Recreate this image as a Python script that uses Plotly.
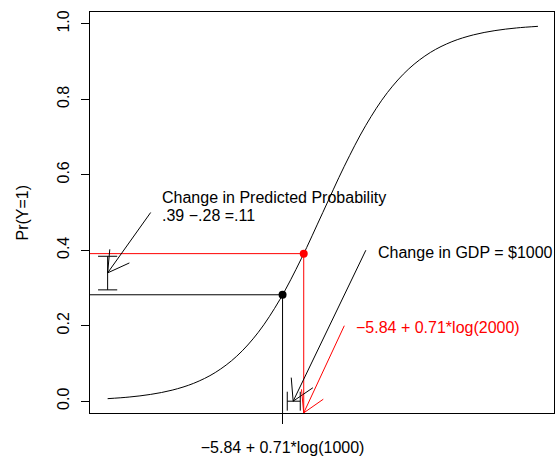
import math
import plotly.graph_objects as go

# ---------------- data ----------------
z_grid = [-5.0, -4.5, -4.0, -3.5, -3.0, -2.5, -2.0, -1.5, -1.0, -0.5, 0.0,
          0.5, 1.0, 1.5, 2.0, 2.5, 3.0, 3.5, 4.0, 4.5, 5.0]
p_curve = [0.0067, 0.0110, 0.0180, 0.0293, 0.0474, 0.0759, 0.1192, 0.1824,
           0.2689, 0.3775, 0.5000, 0.6225, 0.7311, 0.8176, 0.8808, 0.9241,
           0.9526, 0.9707, 0.9820, 0.9890, 0.9933]

z_points = [-0.935, -0.443]          # GDP $1000 and $2000 linear predictor
p_points = [0.282, 0.391]           # predicted probabilities
point_colors = ["black", "red"]

y_ticks = [0.0, 0.2, 0.4, 0.6, 0.8, 1.0]
y_tick_labels = ["0.0", "0.2", "0.4", "0.6", "0.8", "1.0"]
x_label = "\u22125.84 + 0.71*log(1000)"
y_label = "Pr(Y=1)"

# arrows: (tail x, tail y, tip x, tip y, colour)
arrows = [
    (-4.0, 0.50, -5.0, 0.340, "black"),
    (1.0, 0.40, -0.689, 0.0, "black"),
    (0.5, 0.20, -0.443, -0.031, "red"),
]
# error-bar style brackets (x0, y0, x1, y1)
brackets = [
    (-5.0, 0.295, -5.0, 0.384),
    (-0.826, 0.0, -0.524, 0.0),
]
# text labels: (x, y, text, colour)
labels = [
    (-3.78, 0.541, "Change in Predicted Probability", "black"),
    (-3.78, 0.491, ".39 \u2212.28 =.11", "black"),
    (1.23, 0.395, "Change in GDP = $1000", "black"),
    (0.73, 0.195, "\u22125.84 + 0.71*log(2000)", "red"),
]

# ---------------- layout geometry ----------------
W_FIG, H_FIG = 557, 458
ML, MR, MT, MB = 90, 2, 12, 39
x_range = [-5.41, 5.373]
y_range = [-0.0313, 1.0313]
kx = (W_FIG - ML - MR) / (x_range[1] - x_range[0])
ky = (H_FIG - MT - MB) / (y_range[1] - y_range[0])
FONT = "Liberation Sans, Arial, Helvetica, sans-serif"

fig = go.Figure()

# logistic curve
fig.add_trace(go.Scatter(x=z_grid, y=p_curve, mode="lines",
                         line=dict(color="black", width=1, shape="spline"),
                         hoverinfo="skip"))

# guide lines from the points
for z, p, c in zip(z_points, p_points, point_colors):
    fig.add_trace(go.Scatter(x=[x_range[0], z, z], y=[p, p, y_range[0]],
                             mode="lines", line=dict(color=c, width=1),
                             hoverinfo="skip"))


def arrow_segments(x0, y0, x1, y1, length=24, angle=30):
    xs = [x0, x1, None]
    ys = [y0, y1, None]
    th = math.atan2((y0 - y1) * ky, (x0 - x1) * kx)
    for s in (1, -1):
        a = th + s * math.radians(angle)
        xs += [x1, x1 + length * math.cos(a) / kx, None]
        ys += [y1, y1 + length * math.sin(a) / ky, None]
    return xs, ys


for (x0, y0, x1, y1, c) in arrows:
    xs, ys = arrow_segments(x0, y0, x1, y1)
    fig.add_trace(go.Scatter(x=xs, y=ys, mode="lines",
                             line=dict(color=c, width=1), hoverinfo="skip"))


def bracket_segments(x0, y0, x1, y1, half=9.6):
    xs = [x0, x1, None]
    ys = [y0, y1, None]
    th = math.atan2((y1 - y0) * ky, (x1 - x0) * kx)
    px, py = -math.sin(th), math.cos(th)
    for (x, y) in ((x0, y0), (x1, y1)):
        xs += [x - half * px / kx, x + half * px / kx, None]
        ys += [y - half * py / ky, y + half * py / ky, None]
    return xs, ys


for (x0, y0, x1, y1) in brackets:
    xs, ys = bracket_segments(x0, y0, x1, y1)
    fig.add_trace(go.Scatter(x=xs, y=ys, mode="lines",
                             line=dict(color="black", width=1), hoverinfo="skip"))

# points
fig.add_trace(go.Scatter(x=z_points, y=p_points, mode="markers",
                         marker=dict(color=point_colors, size=8), hoverinfo="skip"))

for (x, y, t, c) in labels:
    fig.add_annotation(x=x, y=y, xref="x", yref="y", text=t, showarrow=False,
                       xanchor="left", yanchor="middle",
                       font=dict(family=FONT, size=16, color=c))

fig.add_annotation(x=0, y=0.5, xref="paper", yref="paper", xshift=-68,
                   text=y_label, textangle=-90, showarrow=False,
                   xanchor="center", yanchor="middle",
                   font=dict(family=FONT, size=16, color="black"))

fig.update_layout(
    width=W_FIG, height=H_FIG,
    margin=dict(l=ML, r=MR, t=MT, b=MB),
    paper_bgcolor="white", plot_bgcolor="white",
    showlegend=False,
    font=dict(family=FONT, size=16, color="black"),
    xaxis=dict(range=x_range, showgrid=False, zeroline=False,
               showline=True, mirror=True, linecolor="black", linewidth=1,
               tickvals=[z_points[0]], ticktext=[x_label],
               ticks="outside", ticklen=10, tickcolor="black", tickwidth=1,
               tickfont=dict(family=FONT, size=16, color="black"),
               ticklabelstandoff=10),
    yaxis=dict(range=y_range, showgrid=False, zeroline=False,
               showline=True, mirror=True, linecolor="black", linewidth=1,
               tickvals=y_ticks, ticktext=y_tick_labels, tickangle=-90,
               ticks="outside", ticklen=8, tickcolor="black", tickwidth=1,
               tickfont=dict(family=FONT, size=16, color="black"),
               ticklabelstandoff=6),
)

fig.write_html(
    "out.html",
    config={"displayModeBar": False},
    post_script="document.body.style.margin='0';"
                "document.body.style.overflow='hidden';",
)
